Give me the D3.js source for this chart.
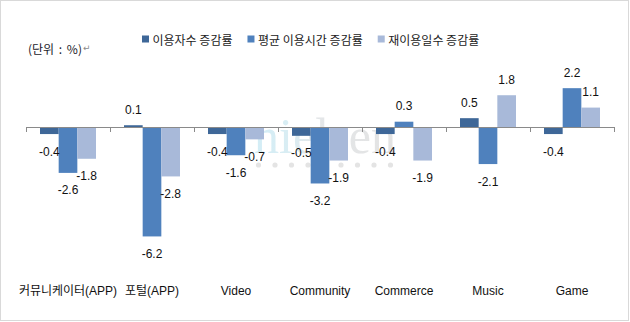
<!DOCTYPE html>
<html>
<head>
<meta charset="utf-8">
<script src="https://cdn.jsdelivr.net/npm/d3@7"></script>
<style>
  html, body { margin: 0; padding: 0; background: #fff; }
  svg { display: block; }
</style>
</head>
<body>
<div id="chart"></div>
<script>
// ---- data ----
const categories = ["커뮤니케이터(APP)", "포털(APP)", "Video", "Community", "Commerce", "Music", "Game"];
const seriesNames = ["이용자수 증감률", "평균 이용시간 증감률", "재이용일수 증감률"];
const usersChange = [-0.4, 0.1, -0.4, -0.5, -0.4, 0.5, -0.4];
const timeChange = [-2.6, -6.2, -1.6, -3.2, 0.3, -2.1, 2.2];
const revisitChange = [-1.8, -2.8, -0.7, -1.9, -1.9, 1.8, 1.1];
const unitLabel = "(단위 : %)";
const watermarkText = "nielsen";

// ---- style ----
const colors = ["#3E6798", "#4F81BD", "#A8B9D9"];
const W = 630, H = 322;
const latinFont = "'Liberation Sans', Arial, 'Noto Sans CJK KR', sans-serif";
const krFont = "'Noto Sans CJK KR', 'Liberation Sans', sans-serif";

const seriesValues = [usersChange, timeChange, revisitChange];
const rows = categories.map((c, i) => ({
  cat: c,
  vals: seriesNames.map((s, j) => ({ series: s, j, v: seriesValues[j][i] }))
}));

const svg = d3.select("#chart").append("svg")
  .attr("width", W).attr("height", H);

svg.append("rect").attr("x", 0).attr("y", 0).attr("width", W).attr("height", H).attr("fill", "#fff");
svg.append("rect").attr("x", 0.5).attr("y", 0.5).attr("width", 628).attr("height", 320)
  .attr("fill", "none").attr("stroke", "#d9d9d9");

// scales
const x0 = d3.scaleBand().domain(categories).range([26, 614]).paddingInner(0).paddingOuter(0);
const x1 = d3.scaleBand().domain(seriesNames).range([0, x0.bandwidth()]).paddingInner(0).paddingOuter(0.75);
const y = d3.scaleLinear().domain([-7, 3]).range([127 + 7 * 17.65, 127 - 3 * 17.65]);

// watermark (behind bars)
const defs = svg.append("defs");
const grad = defs.append("linearGradient").attr("id", "wmg")
  .attr("x1", "0%").attr("x2", "100%");
grad.append("stop").attr("offset", "0%").attr("stop-color", "#d3edf6");
grad.append("stop").attr("offset", "25%").attr("stop-color", "#d9edf3");
grad.append("stop").attr("offset", "42%").attr("stop-color", "#e4e7e9");
grad.append("stop").attr("offset", "100%").attr("stop-color", "#e3e3e3");
const wm = svg.append("g");
wm.append("text").text(watermarkText)
  .attr("x", 254).attr("y", 153)
  .attr("font-family", "'Liberation Serif', 'DejaVu Serif', serif")
  .attr("font-size", 50)
  .attr("textLength", 142).attr("lengthAdjust", "spacing")
  .attr("fill", "url(#wmg)");
wm.selectAll("circle").data(d3.range(9)).join("circle")
  .attr("cx", d => 258.5 + d * 16.5).attr("cy", 165).attr("r", 2.6)
  .attr("fill", "#e4e4e4");

// bars
const groups = svg.append("g").selectAll("g").data(rows).join("g")
  .attr("transform", d => `translate(${x0(d.cat)},0)`);

groups.selectAll("rect").data(d => d.vals).join("rect")
  .attr("x", d => x1(d.series))
  .attr("width", x1.bandwidth())
  .attr("y", d => y(Math.max(0, d.v)))
  .attr("height", d => Math.abs(y(d.v) - y(0)))
  .attr("fill", d => colors[d.j]);

// axis line + ticks at category boundaries
const axisG = svg.append("g");
axisG.append("line")
  .attr("x1", x0.range()[0]).attr("x2", x0.range()[1])
  .attr("y1", y(0) + 0.5).attr("y2", y(0) + 0.5)
  .attr("stroke", "#8a8a8a").attr("stroke-width", 1.2);
const tickXs = d3.range(categories.length + 1).map(i => x0.range()[0] + i * x0.step());
axisG.selectAll("line.tick").data(tickXs).join("line")
  .attr("class", "tick")
  .attr("x1", d => Math.round(d) + 0.5).attr("x2", d => Math.round(d) + 0.5)
  .attr("y1", y(0)).attr("y2", y(0) + 5)
  .attr("stroke", "#8a8a8a").attr("stroke-width", 1);

// data labels
const locale = d3.formatLocale({ decimal: ".", thousands: ",", grouping: [3], currency: ["", ""], minus: "-" });
const fmt = locale.format(".1f");
groups.selectAll("text").data(d => d.vals).join("text")
  .attr("x", d => x1(d.series) + x1.bandwidth() / 2)
  .attr("y", d => d.v < 0 ? y(d.v) + 21.5 : y(d.v) - 11.5)
  .attr("text-anchor", "middle")
  .attr("font-family", latinFont)
  .attr("font-size", 12)
  .attr("fill", "#111")
  .text(d => fmt(d.v));

// category labels
svg.append("g").selectAll("text").data(categories).join("text")
  .attr("x", d => x0(d) + x0.bandwidth() / 2)
  .attr("y", 294.5)
  .attr("text-anchor", "middle")
  .attr("font-family", latinFont)
  .attr("font-size", 12)
  .attr("fill", "#111")
  .text(d => d);

// legend
const legend = svg.append("g");
let lx = 142;
seriesNames.forEach((s, j) => {
  legend.append("rect").attr("x", lx).attr("y", 35.5).attr("width", 7).attr("height", 7)
    .attr("fill", colors[j]);
  const t = legend.append("text").attr("x", lx + 10.5).attr("y", 39.5)
    .attr("dominant-baseline", "central")
    .attr("font-family", krFont).attr("font-size", 12).attr("fill", "#222")
    .text(s);
  const w = t.node().getComputedTextLength();
  lx = lx + 10.5 + w + 15;
});

// unit label
const ut = svg.append("text").attr("x", 28).attr("y", 47.5)
  .attr("dominant-baseline", "central")
  .attr("font-family", krFont).attr("font-size", 12).attr("fill", "#1a1a2a")
  .attr("word-spacing", 2);
ut.append("tspan").text(unitLabel);
ut.append("tspan").attr("font-family", "'DejaVu Sans', sans-serif").attr("font-size", 9)
  .attr("fill", "#8a8a8a").attr("dx", 1).text("↵");
</script>
</body>
</html>
